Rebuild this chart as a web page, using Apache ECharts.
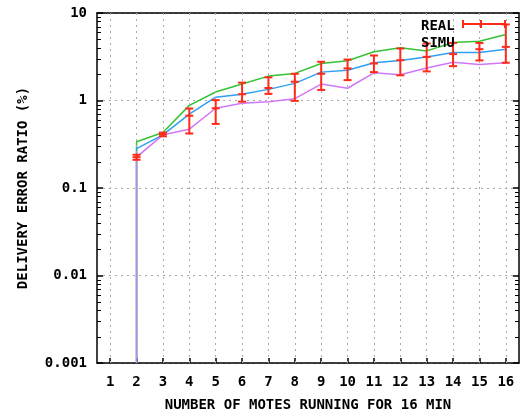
<!DOCTYPE html>
<html>
<head>
<meta charset="utf-8">
<script src="https://cdn.jsdelivr.net/npm/echarts@6/dist/echarts.min.js"></script>
<style>html,body{margin:0;padding:0;background:#fff}#c{width:522px;height:417px}</style>
</head>
<body>
<div id="c"></div>
<script>
// ---- data ----
var motes = [2, 3, 4, 5, 6, 7, 8, 9, 10, 11, 12, 13, 14, 15, 16];
var realMean = [0.225, 0.41, 0.67, 0.815, 1.18, 1.39, 1.64, 2.02, 2.33, 2.65, 2.89, 3.15, 3.39, 3.86, 4.1];
var realLow  = [0.21, 0.39, 0.42, 0.54, 0.97, 1.19, 0.99, 1.32, 1.71, 2.11, 1.94, 2.15, 2.47, 2.87, 2.7];
var realHigh = [0.24, 0.43, 0.81, 1.01, 1.6, 1.84, 2.02, 2.77, 2.94, 3.27, 3.93, 4.48, 4.55, 4.55, 7.4];
var simuHigh = [0.337, 0.43, 0.88, 1.25, 1.54, 1.9, 2.04, 2.65, 2.84, 3.6, 4.0, 3.69, 4.6, 4.76, 5.67];
var simuMid  = [0.282, 0.405, 0.70, 1.09, 1.18, 1.34, 1.57, 2.11, 2.22, 2.7, 2.87, 3.15, 3.54, 3.54, 3.86];
var simuLow  = [0.225, 0.405, 0.47, 0.815, 0.93, 0.97, 1.05, 1.54, 1.38, 2.07, 1.97, 2.35, 2.74, 2.58, 2.7];
var xTicks = [1, 2, 3, 4, 5, 6, 7, 8, 9, 10, 11, 12, 13, 14, 15, 16];
var yTickLabels = {'10': '10', '1': '1', '0.1': '0.1', '0.01': '0.01', '0.001': '0.001'};
var yMinorTicks = [];
[0.001, 0.01, 0.1, 1].forEach(function (d) { for (var k = 2; k <= 9; k++) yMinorTicks.push(+(d * k).toPrecision(3)); });
var axisFloor = 0.001;
var xMin = 0.5, xMax = 16.5;

// ---- build ----
var FONT = 'DejaVu Sans Mono';
function lineData(vals) {
  var d = [[motes[0], axisFloor]];
  for (var i = 0; i < motes.length; i++) d.push([motes[i], vals[i]]);
  return d;
}
var errData = motes.map(function (m, i) { return [m, realMean[i], realLow[i], realHigh[i]]; });
var RED = '#ff2a1a';
var AXW = 1.5;

var chart = echarts.init(document.getElementById('c'));
chart.setOption({
  animation: false,
  backgroundColor: '#fff',
  grid: {left: 97, right: 3, top: 13, bottom: 53, containLabel: false},
  xAxis: [{
    type: 'value', min: xMin, max: xMax, position: 'bottom',
    name: 'NUMBER OF MOTES RUNNING FOR 16 MIN', nameLocation: 'middle', nameGap: 35,
    nameTextStyle: {fontFamily: FONT, fontWeight: 'bold', fontSize: 14, color: '#000'},
    axisLine: {show: true, lineStyle: {color: '#000', width: AXW}},
    axisTick: {show: true, inside: true, length: 5, customValues: xTicks, lineStyle: {color: '#000', width: 1.5}},
    axisLabel: {show: true, customValues: xTicks, margin: 12, fontFamily: FONT, fontWeight: 'bold', fontSize: 14, color: '#000'},
    splitLine: {show: false}
  }, {
    type: 'value', min: xMin, max: xMax, position: 'top',
    axisLine: {show: true, lineStyle: {color: '#000', width: AXW}},
    axisTick: {show: false}, axisLabel: {show: false}, splitLine: {show: false}
  }],
  yAxis: [{
    type: 'log', logBase: 10, min: 0.001, max: 10, position: 'left',
    name: 'DELIVERY ERROR RATIO (%)', nameLocation: 'middle', nameGap: 67, nameRotate: 90,
    nameTextStyle: {fontFamily: FONT, fontWeight: 'bold', fontSize: 14, color: '#000'},
    axisLine: {show: true, lineStyle: {color: '#000', width: AXW}},
    axisTick: {show: true, inside: true, length: 6, lineStyle: {color: '#000', width: 1.5}},
    axisLabel: {margin: 10, fontFamily: FONT, fontWeight: 'bold', fontSize: 14, color: '#000',
      formatter: function (v) { var k = String(+v.toPrecision(3)); return yTickLabels[k] !== undefined ? yTickLabels[k] : k; }},
    splitLine: {show: true, lineStyle: {color: '#aaaaaa', width: 1, type: [2, 4]}}
  }, {
    type: 'log', logBase: 10, min: 0.001, max: 10, position: 'right',
    axisLine: {show: true, lineStyle: {color: '#000', width: AXW}},
    axisTick: {show: true, inside: true, length: 6, lineStyle: {color: '#000', width: 1.5}},
    axisLabel: {show: false}, splitLine: {show: false}
  }],
  graphic: [
    {type: 'text', left: 421, top: 19, style: {text: 'REAL', font: 'bold 14px "DejaVu Sans Mono"', fill: '#000'}, z: 100},
    {type: 'text', left: 421, top: 36, style: {text: 'SIMU', font: 'bold 14px "DejaVu Sans Mono"', fill: '#000'}, z: 100},
    {type: 'group', z: 100, children: [
      {type: 'line', shape: {x1: 463, y1: 24, x2: 505, y2: 24}, style: {stroke: RED, lineWidth: 2}},
      {type: 'line', shape: {x1: 463, y1: 20, x2: 463, y2: 28}, style: {stroke: RED, lineWidth: 2}},
      {type: 'line', shape: {x1: 481, y1: 20, x2: 481, y2: 28}, style: {stroke: RED, lineWidth: 2}},
      {type: 'line', shape: {x1: 505, y1: 20, x2: 505, y2: 28}, style: {stroke: RED, lineWidth: 2}}
    ]}
  ],
  series: [
    {
      type: 'line', data: [], z: 1, silent: true,
      markLine: {silent: true, symbol: 'none', label: {show: false},
        lineStyle: {color: '#aaaaaa', width: 1, type: [2, 4]},
        data: xTicks.map(function (t) { return {xAxis: t}; })}
    },
    {
      type: 'custom', z: 3, silent: true, xAxisIndex: 0, yAxisIndex: 0, clip: false,
      data: yMinorTicks.map(function (v) { return [xMin, v]; }),
      encode: {x: 0, y: 1},
      renderItem: function (params, api) {
        var v = api.value(1);
        var pl = api.coord([xMin, v]), pr = api.coord([xMax, v]);
        var y = Math.round(pl[1]) + 0.5;
        return {type: 'group', children: [
          {type: 'line', shape: {x1: pl[0], y1: y, x2: pl[0] + 4, y2: y}, style: {stroke: '#000', lineWidth: 1}},
          {type: 'line', shape: {x1: pr[0], y1: y, x2: pr[0] - 4, y2: y}, style: {stroke: '#000', lineWidth: 1}}
        ]};
      }
    },
    {type: 'line', data: lineData(simuHigh), symbol: 'none', z: 4, lineStyle: {color: '#33c433', width: 1.5}},
    {type: 'line', data: lineData(simuMid), symbol: 'none', z: 4, lineStyle: {color: '#2fa0f0', width: 1.5}},
    {type: 'line', data: lineData(simuLow), symbol: 'none', z: 4, lineStyle: {color: '#d078f8', width: 1.5}},
    {
      type: 'custom', z: 5, data: errData, encode: {x: 0, y: [1, 2, 3]},
      renderItem: function (params, api) {
        var x = api.value(0);
        var pc = api.coord([x, api.value(1)]), pl = api.coord([x, api.value(2)]), ph = api.coord([x, api.value(3)]);
        var w = 4, st = {stroke: RED, lineWidth: 2};
        return {type: 'group', children: [
          {type: 'line', shape: {x1: pl[0], y1: pl[1], x2: ph[0], y2: ph[1]}, style: st},
          {type: 'line', shape: {x1: pl[0] - w, y1: pl[1], x2: pl[0] + w, y2: pl[1]}, style: st},
          {type: 'line', shape: {x1: ph[0] - w, y1: ph[1], x2: ph[0] + w, y2: ph[1]}, style: st},
          {type: 'line', shape: {x1: pc[0] - w, y1: pc[1], x2: pc[0] + w, y2: pc[1]}, style: st}
        ]};
      }
    }
  ]
});
</script>
</body>
</html>
